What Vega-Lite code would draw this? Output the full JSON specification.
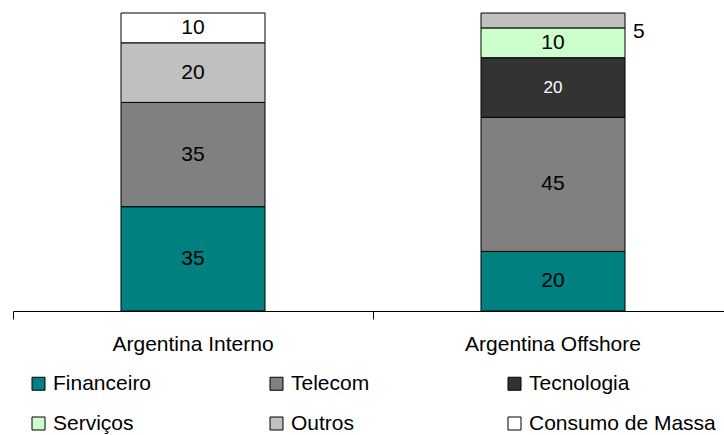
{
  "$schema": "https://vega.github.io/schema/vega-lite/v6.json",
  "autosize": "none",
  "width": 711,
  "height": 298,
  "padding": {"left": 13, "top": 13, "right": 0, "bottom": 124},
  "background": "white",
  "data": {
    "values": [
      {"mercado": "Argentina Interno", "setor": "Financeiro", "valor": 35},
      {"mercado": "Argentina Interno", "setor": "Telecom", "valor": 35},
      {"mercado": "Argentina Interno", "setor": "Outros", "valor": 20},
      {"mercado": "Argentina Interno", "setor": "Consumo de Massa", "valor": 10},
      {"mercado": "Argentina Offshore", "setor": "Financeiro", "valor": 20},
      {"mercado": "Argentina Offshore", "setor": "Telecom", "valor": 45},
      {"mercado": "Argentina Offshore", "setor": "Tecnologia", "valor": 20},
      {"mercado": "Argentina Offshore", "setor": "Serviços", "valor": 10},
      {"mercado": "Argentina Offshore", "setor": "Outros", "valor": 5}
    ]
  },
  "transform": [
    {"calculate": "indexof(['Financeiro','Telecom','Tecnologia','Serviços','Outros','Consumo de Massa'], datum.setor)", "as": "ordem"},
    {"stack": "valor", "groupby": ["mercado"], "sort": [{"field": "ordem"}], "as": ["v0", "v1"]},
    {"calculate": "(datum.v0 + datum.v1) / 2", "as": "meio"}
  ],
  "encoding": {
    "x": {
      "field": "mercado",
      "type": "nominal",
      "title": null,
      "scale": {"range": [0, 720], "paddingInner": 0.6, "paddingOuter": 0.3},
      "axis": {
        "labelAngle": 0,
        "ticks": true,
        "bandPosition": -0.75,
        "domainColor": "black",
        "tickColor": "black",
        "tickSize": 8,
        "labelFont": "Liberation Sans",
        "labelFontSize": 21,
        "labelColor": "black",
        "labelPadding": 14
      }
    }
  },
  "layer": [
    {
      "mark": {"type": "bar", "stroke": "black", "strokeWidth": 1},
      "encoding": {
        "y": {"field": "v0", "type": "quantitative", "scale": {"domain": [0, 100]}, "axis": null},
        "y2": {"field": "v1"},
        "fill": {
          "field": "setor",
          "type": "nominal",
          "scale": {
            "domain": ["Financeiro", "Telecom", "Tecnologia", "Serviços", "Outros", "Consumo de Massa"],
            "range": ["#008080", "#808080", "#333333", "#CCFFCC", "#C0C0C0", "#FFFFFF"]
          },
          "legend": {
            "title": null,
            "orient": "none",
            "legendX": 15,
            "legendY": 360,
            "direction": "horizontal",
            "columns": 3,
            "gridAlign": "all",
            "columnPadding": 26,
            "rowPadding": 18,
            "symbolType": "square",
            "symbolSize": 169,
            "symbolStrokeColor": "black",
            "symbolStrokeWidth": 1,
            "symbolOpacity": 1,
            "labelFont": "Liberation Sans",
            "labelFontSize": 21,
            "labelColor": "black",
            "labelOffset": 4,
            "labelLimit": 0
          }
        }
      }
    },
    {
      "transform": [{"filter": "datum.valor >= 10"}],
      "mark": {"type": "text", "font": "Liberation Sans", "baseline": "middle", "align": "center"},
      "encoding": {
        "y": {"field": "meio", "type": "quantitative"},
        "text": {"field": "valor", "type": "quantitative"},
        "color": {"condition": {"test": "datum.setor === 'Tecnologia'", "value": "white"}, "value": "black"},
        "size": {"condition": {"test": "datum.setor === 'Tecnologia'", "value": 17}, "value": 21}
      }
    },
    {
      "transform": [{"filter": "datum.valor < 10"}],
      "mark": {"type": "text", "font": "Liberation Sans", "baseline": "middle", "align": "left", "dx": 80, "dy": 12, "fontSize": 21, "color": "black"},
      "encoding": {
        "y": {"field": "meio", "type": "quantitative"},
        "text": {"field": "valor", "type": "quantitative"}
      }
    }
  ],
  "config": {"view": {"stroke": null}}
}
